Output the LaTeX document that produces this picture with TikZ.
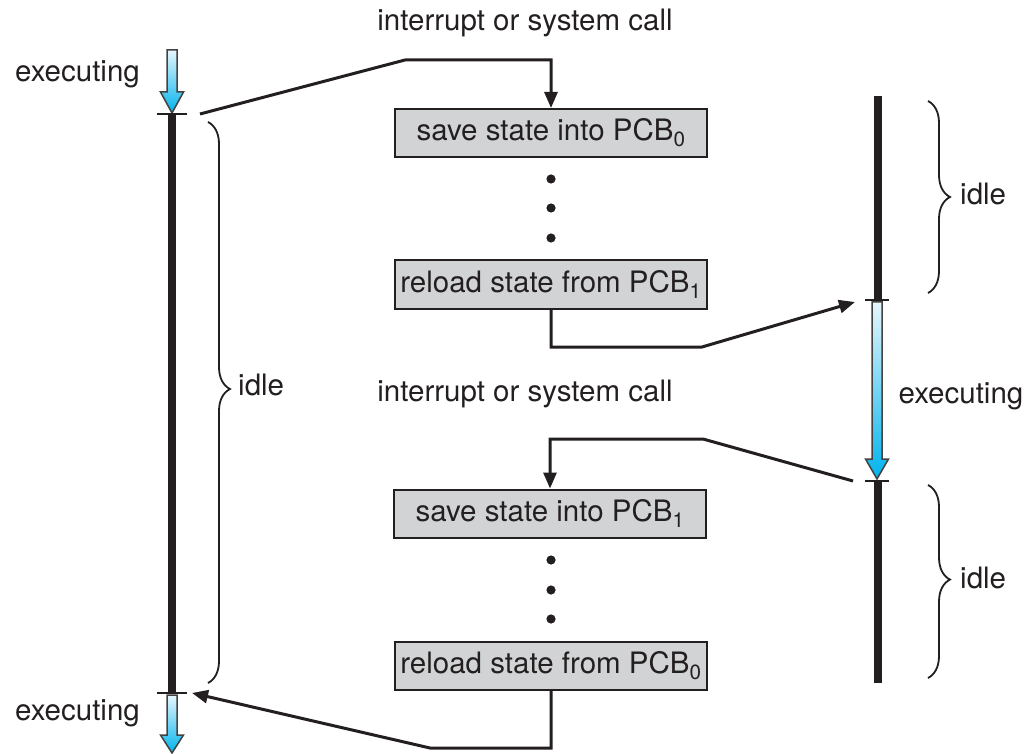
\documentclass[tikz,border=0pt]{standalone}
\usepackage{fontspec}
\setmainfont{TeX Gyre Heros}
\usetikzlibrary{arrows.meta,decorations.pathreplacing}
\definecolor{ink}{HTML}{231F20}
\definecolor{boxgray}{HTML}{D1D3D4}
\definecolor{runtop}{HTML}{E6F6FD}
\definecolor{runbot}{HTML}{00B3EC}
\begin{document}
\begin{tikzpicture}[x=1pt,y=-1pt,
  lbl/.style={font=\fontsize{29.5}{34}\selectfont, text=ink, inner sep=0pt},
  stepbox/.style={draw=ink, line width=2pt, fill=boxgray, minimum width=312pt,
    minimum height=48pt, inner sep=0pt, text=ink, font=\fontsize{29.5}{34}\selectfont},
  link/.style={draw=ink, line width=3pt, line join=miter,
    -{Triangle[length=16pt,width=13pt]}},
  bar/.style={draw=ink, line width=7.5pt},
  tickmark/.style={draw=ink, line width=2pt},
  idlebrace/.style={draw=ink, line width=1.8pt, decorate,
    decoration={brace, amplitude=22pt, aspect=#1}},
  run/.style={draw=ink!85, line width=1.5pt, top color=runtop, bottom color=runbot},
  dot/.style={fill=ink}
]
\useasboundingbox (0,0) rectangle (1026,754);

% process P0 time line (left)
\path[run] (167,50) -- (177,50) -- (177,92) -- (183.5,92) -- (172,113)
  -- (160.5,92) -- (167,92) -- cycle;
\draw[tickmark] (157,114) -- (187,114);
\draw[bar] (172,115) -- (172,692);
\draw[tickmark] (157,693) -- (187,693);
\path[run] (167,695) -- (177,695) -- (177,735) -- (183.5,735) -- (172,753)
  -- (160.5,735) -- (167,735) -- cycle;
\draw[idlebrace=0.476] (208,122) -- (208,683);

% process P1 time line (right)
\draw[bar] (878,96) -- (878,299);
\draw[tickmark] (865,300) -- (889,300);
\path[run] (872,302) -- (882,302) -- (882,459) -- (888.5,459) -- (877,479)
  -- (865.5,459) -- (872,459) -- cycle;
\draw[tickmark] (865,481) -- (889,481);
\draw[bar] (878,482) -- (878,683);
\draw[idlebrace=0.5] (928,101) -- (928,293);
\draw[idlebrace=0.49] (928,485) -- (928,678);

% labels
\node[lbl, anchor=base] (int0) at (525,31) {interrupt or system call};
\node[lbl, anchor=base] (int1) at (525,401) {interrupt or system call};
\node[lbl, anchor=base] (ex0) at (77.5,82) {executing};
\node[lbl, anchor=base] (ex1) at (77.5,720) {executing};
\node[lbl, anchor=base] (ex2) at (961,403) {executing};
\node[lbl, anchor=base west] (idle0) at (238,395) {idle};
\node[lbl, anchor=base west] (idle1) at (960,205) {idle};
\node[lbl, anchor=base west] (idle2) at (960,588) {idle};

% operating system actions
\node[stepbox] (s0) at (551,133) {save state into PCB\textsubscript{0}};
\node[stepbox] (r1) at (551,284.5) {reload state from PCB\textsubscript{1}};
\node[stepbox] (s1) at (550,513.5) {save state into PCB\textsubscript{1}};
\node[stepbox] (r0) at (551,666) {reload state from PCB\textsubscript{0}};

\foreach \y in {179,208,238,560,590,619}
  \fill[dot] (551,\y) circle (4.6);

% switch points on the time lines
\coordinate (c1) at (200,114);
\coordinate (c2) at (855,302);
\coordinate (c3) at (853,481);
\coordinate (c4) at (192,693);

\draw[link] (c1) -- (405,60) -| (s0.north);
\draw[link] (r1.south) |- (702,347) -- (c2);
\draw[link] (c3) -- (703,439) -| (s1.north);
\draw[link] (r0.south) |- (430,748) -- (c4);
\end{tikzpicture}
\end{document}
